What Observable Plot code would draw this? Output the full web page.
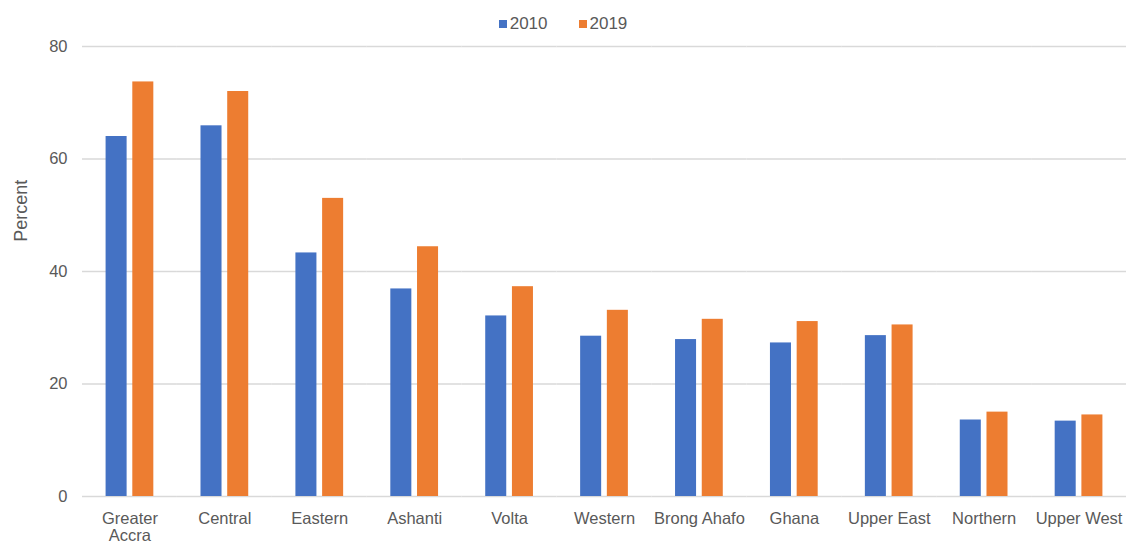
<!DOCTYPE html>
<html>
<head>
<meta charset="utf-8">
<script src="https://cdn.jsdelivr.net/npm/d3@7"></script>
<script src="https://cdn.jsdelivr.net/npm/@observablehq/plot@0.6"></script>
<style>
  html, body { margin: 0; padding: 0; background: #fff; }
  body { width: 1126px; height: 544px; overflow: hidden; font-family: "Liberation Sans", Arial, sans-serif; }
  #legend { height: 36px; display: flex; justify-content: center; align-items: center; gap: 31px; font-size: 17px; color: #595959; padding-top: 11px; box-sizing: border-box; }
  #legend .item { display: flex; align-items: center; gap: 3px; }
  #legend .sw { width: 8px; height: 8px; display: inline-block; }
</style>
</head>
<body>
<div id="legend"></div>
<div id="chart"></div>
<script>
const regions = ["Greater Accra", "Central", "Eastern", "Ashanti", "Volta", "Western", "Brong Ahafo", "Ghana", "Upper East", "Northern", "Upper West"];
const years = ["2010", "2019"];
const values2010 = [64.0, 65.9, 43.3, 36.9, 32.1, 28.5, 27.9, 27.3, 28.6, 13.6, 13.4];
const values2019 = [73.7, 72.0, 53.0, 44.4, 37.3, 33.1, 31.5, 31.1, 30.5, 15.0, 14.5];
const yTicks = [0, 20, 40, 60, 80];
const colors = ["#4472C4", "#ED7D31"];
const yLabel = "Percent";

const data = [];
regions.forEach((r, i) => {
  data.push({region: r, year: years[0], value: values2010[i]});
  data.push({region: r, year: years[1], value: values2019[i]});
});

const legend = document.getElementById("legend");
years.forEach((y, i) => {
  const it = document.createElement("span");
  it.className = "item";
  const sw = document.createElement("span");
  sw.className = "sw";
  sw.style.background = colors[i];
  const t = document.createElement("span");
  t.textContent = y;
  it.appendChild(sw); it.appendChild(t);
  legend.appendChild(it);
});

const chart = Plot.plot({
  width: 1126,
  height: 508,
  marginLeft: 82,
  marginRight: 0,
  marginTop: 10,
  marginBottom: 48,
  style: {fontFamily: "Liberation Sans, Arial, sans-serif", fontSize: "16.5px", color: "#595959", background: "#fff"},
  fx: {domain: regions, padding: 0, round: false, label: null, axis: null},
  x: {domain: years, paddingInner: 0.213, paddingOuter: 0.883, round: false, axis: null},
  y: {domain: [0, 80], label: null},
  color: {domain: years, range: colors},
  marks: [
    Plot.ruleY(yTicks, {stroke: "#d9d9d9", strokeWidth: 1.5}),
    Plot.barY(data, {fx: "region", x: "year", y: "value", fill: "year"}),
    Plot.axisY({ticks: yTicks, tickSize: 0, tickPadding: 15, label: null, fill: "#595959", fontSize: 16.5}),
    Plot.axisFx({anchor: "bottom", tickSize: 0, tickPadding: 16, label: null, fill: "#595959", fontSize: 16.5,
      tickFormat: d => d === "Greater Accra" ? "Greater\nAccra" : d}),
    Plot.text([yLabel], {fx: [regions[0]], y: [50.8], text: d => d, frameAnchor: "left", textAnchor: "middle", rotate: -90, dx: -61, fill: "#595959", fontSize: 18})
  ]
});
document.getElementById("chart").appendChild(chart);
</script>
</body>
</html>
